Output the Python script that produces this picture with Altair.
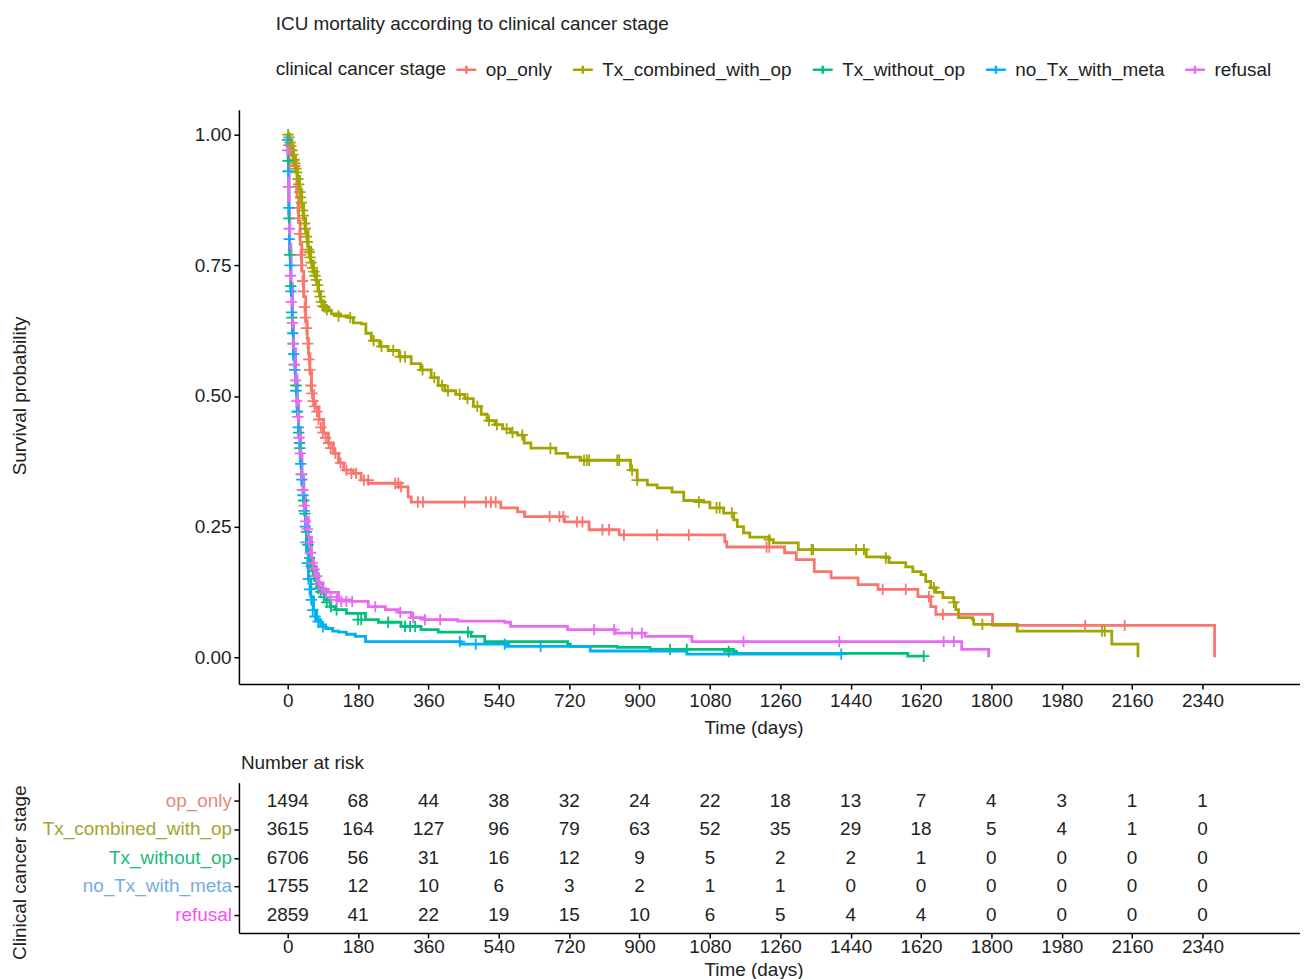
import altair as alt
import pandas as pd

FONT = "Liberation Sans"
TXT = "#222222"

groups = ["op_only", "Tx_combined_with_op", "Tx_without_op", "no_Tx_with_meta", "refusal"]
line_colors = ["#F8766D", "#A3A500", "#00BF7D", "#00B0F6", "#E76BF3"]
label_colors = ["#E8887B", "#A3A52E", "#1DB97C", "#72AEE3", "#F452F4"]

x_ticks = [0, 180, 360, 540, 720, 900, 1080, 1260, 1440, 1620, 1800, 1980, 2160, 2340]
y_ticks = [0.0, 0.25, 0.5, 0.75, 1.0]

# ---- Kaplan-Meier step curves (time in days, survival probability) ----
op_t = [0, 5, 12, 20, 24, 28, 32, 36, 41, 46, 50, 53, 57, 61, 66, 71, 80, 92, 104, 117,
        130, 143, 168, 188, 206, 283, 308, 316, 545, 588, 606, 708, 771, 848, 1118, 1123,
        1271, 1301, 1347, 1390, 1459, 1510, 1612, 1645, 1658, 1803, 2371]
op_s = [1.0, 0.98, 0.96, 0.93, 0.88, 0.834, 0.79, 0.739, 0.69, 0.644, 0.61, 0.581, 0.545,
        0.51, 0.49, 0.478, 0.455, 0.429, 0.41, 0.39, 0.372, 0.358, 0.352, 0.339, 0.333,
        0.326, 0.307, 0.297, 0.286, 0.278, 0.269, 0.259, 0.244, 0.234, 0.221, 0.211, 0.2,
        0.187, 0.164, 0.152, 0.139, 0.13, 0.116, 0.097, 0.082, 0.061, 0.0]

cw_t = [0, 5, 10, 15, 20, 25, 30, 36, 41, 46, 52, 59, 66, 74, 79, 84, 92, 104, 112, 135,
        155, 168, 188, 200, 214, 235, 257, 285, 316, 340, 367, 385, 402, 430, 453, 475, 495,
        510, 530, 550, 570, 588, 605, 622, 686, 716, 749, 877, 894, 920, 945, 983, 1013,
        1064, 1080, 1115, 1141, 1150, 1166, 1182, 1232, 1242, 1306, 1480, 1538, 1581, 1599,
        1620, 1632, 1645, 1658, 1676, 1704, 1709, 1716, 1752, 1755, 1866, 2108, 2175]
cw_s = [1.0, 0.99, 0.973, 0.955, 0.94, 0.92, 0.895, 0.867, 0.84, 0.815, 0.785, 0.758, 0.74,
        0.72, 0.70, 0.682, 0.67, 0.663, 0.657, 0.653, 0.65, 0.64, 0.638, 0.62, 0.606, 0.595,
        0.587, 0.575, 0.562, 0.55, 0.535, 0.52, 0.51, 0.503, 0.495, 0.48, 0.465, 0.453,
        0.445, 0.437, 0.43, 0.425, 0.41, 0.40, 0.39, 0.383, 0.377, 0.358, 0.339, 0.33,
        0.324, 0.316, 0.30, 0.297, 0.286, 0.276, 0.263, 0.25, 0.238, 0.23, 0.225, 0.219,
        0.206, 0.192, 0.181, 0.173, 0.164, 0.158, 0.145, 0.133, 0.124, 0.114, 0.105, 0.091,
        0.076, 0.072, 0.063, 0.05, 0.025, 0.0]

wo_t = [0, 1, 3, 5, 8, 12, 15, 20, 24, 28, 32, 36, 41, 46, 50, 55, 61, 66, 71, 80, 87, 97,
        109, 122, 150, 199, 232, 290, 341, 385, 469, 504, 716, 723, 843, 927, 1141, 1148,
        1586, 1627]
wo_s = [1.0, 0.96, 0.85, 0.78, 0.707, 0.63, 0.58, 0.53, 0.48, 0.434, 0.385, 0.339, 0.30,
        0.263, 0.225, 0.20, 0.173, 0.16, 0.149, 0.13, 0.124, 0.11, 0.097, 0.091, 0.084,
        0.072, 0.067, 0.059, 0.053, 0.048, 0.04, 0.03, 0.025, 0.021, 0.019, 0.015, 0.011,
        0.0075, 0.002, 0.002]

nt_t = [0, 1, 3, 5, 8, 12, 15, 20, 24, 28, 32, 36, 41, 46, 48, 53, 59, 66, 74, 84, 97, 115,
        130, 150, 173, 199, 443, 560, 774, 1021, 1416]
nt_s = [1.0, 0.95, 0.84, 0.77, 0.70, 0.62, 0.57, 0.52, 0.47, 0.425, 0.375, 0.33, 0.29, 0.245,
        0.2, 0.149, 0.116, 0.09, 0.072, 0.062, 0.055, 0.05, 0.048, 0.044, 0.04, 0.03, 0.025,
        0.021, 0.012, 0.006, 0.006]

rf_t = [0, 1, 3, 5, 8, 12, 15, 20, 24, 28, 32, 36, 41, 46, 53, 61, 66, 74, 79, 90, 104, 130,
        163, 206, 250, 283, 316, 351, 435, 555, 570, 716, 838, 914, 1034, 1724, 1793]
rf_s = [1.0, 0.965, 0.86, 0.79, 0.715, 0.64, 0.59, 0.54, 0.49, 0.44, 0.39, 0.345, 0.305,
        0.268, 0.23, 0.19, 0.173, 0.16, 0.143, 0.13, 0.124, 0.11, 0.107, 0.097, 0.091, 0.086,
        0.076, 0.072, 0.069, 0.067, 0.059, 0.053, 0.046, 0.04, 0.03, 0.015, 0.0]

# ---- censoring marks (time, survival) ----
cens_op = [(3, 0.98), (8, 0.97), (14, 0.95), (18, 0.94), (22, 0.90), (25, 0.86), (27, 0.84),
           (30, 0.81), (33, 0.77), (35, 0.75), (38, 0.72), (40, 0.70), (43, 0.67), (45, 0.65),
           (48, 0.63), (51, 0.60), (54, 0.57), (56, 0.55), (59, 0.52), (62, 0.505), (65, 0.49),
           (69, 0.48), (75, 0.47), (79, 0.455), (85, 0.44), (90, 0.43), (97, 0.42), (105, 0.41),
           (110, 0.40), (122, 0.39), (135, 0.372), (150, 0.358), (163, 0.352), (175, 0.352),
           (195, 0.339), (206, 0.339), (275, 0.333), (283, 0.333), (290, 0.326), (333, 0.297),
           (346, 0.297), (453, 0.297), (507, 0.297), (520, 0.297), (532, 0.297), (670, 0.269),
           (695, 0.269), (705, 0.269), (740, 0.259), (754, 0.259), (805, 0.244), (822, 0.244),
           (860, 0.234), (945, 0.234), (1026, 0.234), (1225, 0.211), (1232, 0.211),
           (1522, 0.13), (1581, 0.13), (1640, 0.116), (1676, 0.082), (2040, 0.061),
           (2141, 0.061)]
cens_cw = [(1, 1.0), (3, 0.995), (6, 0.985), (8, 0.978), (11, 0.97), (13, 0.962), (16, 0.952),
           (18, 0.945), (21, 0.935), (23, 0.928), (26, 0.915), (28, 0.905), (31, 0.89),
           (33, 0.88), (35, 0.87), (38, 0.855), (40, 0.845), (43, 0.83), (45, 0.82), (48, 0.805),
           (50, 0.795), (53, 0.78), (55, 0.775), (57, 0.765), (60, 0.755), (63, 0.745),
           (67, 0.738), (70, 0.73), (73, 0.722), (76, 0.712), (80, 0.70), (83, 0.69), (86, 0.68),
           (90, 0.672), (95, 0.67), (100, 0.665), (130, 0.653), (160, 0.65), (220, 0.606),
           (240, 0.595), (270, 0.587), (288, 0.575), (300, 0.575), (345, 0.55), (375, 0.535),
           (395, 0.52), (410, 0.51), (440, 0.503), (460, 0.495), (485, 0.48), (515, 0.453),
           (535, 0.445), (560, 0.437), (575, 0.43), (600, 0.425), (672, 0.40), (758, 0.377),
           (765, 0.377), (771, 0.377), (843, 0.377), (848, 0.377), (881, 0.358), (894, 0.339),
           (1052, 0.297), (1097, 0.286), (1105, 0.286), (1136, 0.276), (1232, 0.225),
           (1340, 0.206), (1344, 0.206), (1454, 0.206), (1474, 0.206), (1530, 0.19),
           (1653, 0.133), (1704, 0.105), (1777, 0.063), (2083, 0.05), (2090, 0.05)]
cens_wo = [(1, 0.95), (3, 0.84), (5, 0.77), (8, 0.71), (11, 0.65), (14, 0.60), (17, 0.56),
           (21, 0.52), (25, 0.47), (28, 0.43), (31, 0.40), (35, 0.35), (38, 0.32), (41, 0.30),
           (44, 0.275), (48, 0.24), (52, 0.215), (56, 0.19), (60, 0.175), (64, 0.165),
           (68, 0.155), (73, 0.14), (78, 0.132), (84, 0.125), (92, 0.115), (100, 0.105),
           (110, 0.097), (125, 0.091), (180, 0.072), (188, 0.072), (257, 0.067), (300, 0.059),
           (313, 0.059), (326, 0.059), (461, 0.048), (978, 0.015), (1021, 0.015),
           (1128, 0.011), (1627, 0.002)]
cens_nt = [(0, 0.99), (1, 0.93), (3, 0.86), (4, 0.80), (6, 0.75), (8, 0.70), (10, 0.66),
           (13, 0.62), (15, 0.58), (18, 0.55), (21, 0.51), (24, 0.47), (27, 0.44), (30, 0.41),
           (33, 0.37), (36, 0.34), (39, 0.31), (42, 0.28), (45, 0.25), (47, 0.22), (50, 0.18),
           (53, 0.15), (56, 0.13), (60, 0.11), (64, 0.09), (70, 0.078), (78, 0.068),
           (90, 0.058), (440, 0.03), (481, 0.025), (555, 0.025), (647, 0.021), (1416, 0.006)]
cens_rf = [(0, 0.97), (2, 0.90), (4, 0.82), (7, 0.73), (9, 0.68), (12, 0.64), (14, 0.60),
           (17, 0.56), (20, 0.53), (23, 0.49), (26, 0.46), (29, 0.42), (32, 0.39), (35, 0.35),
           (38, 0.32), (42, 0.29), (46, 0.26), (50, 0.245), (54, 0.22), (58, 0.2), (63, 0.18),
           (68, 0.168), (74, 0.155), (80, 0.14), (88, 0.13), (97, 0.124), (110, 0.115),
           (125, 0.11), (137, 0.107), (150, 0.107), (165, 0.107), (224, 0.097), (288, 0.086),
           (321, 0.076), (351, 0.072), (390, 0.072), (784, 0.053), (835, 0.053), (881, 0.046),
           (906, 0.046), (1166, 0.03), (1411, 0.03), (1678, 0.03), (1704, 0.03)]

# ---- number at risk ----
risk_op = [1494, 68, 44, 38, 32, 24, 22, 18, 13, 7, 4, 3, 1, 1]
risk_cw = [3615, 164, 127, 96, 79, 63, 52, 35, 29, 18, 5, 4, 1, 0]
risk_wo = [6706, 56, 31, 16, 12, 9, 5, 2, 2, 1, 0, 0, 0, 0]
risk_nt = [1755, 12, 10, 6, 3, 2, 1, 1, 0, 0, 0, 0, 0, 0]
risk_rf = [2859, 41, 22, 19, 15, 10, 6, 5, 4, 4, 0, 0, 0, 0]

curves = [(op_t, op_s), (cw_t, cw_s), (wo_t, wo_s), (nt_t, nt_s), (rf_t, rf_s)]
censors = [cens_op, cens_cw, cens_wo, cens_nt, cens_rf]
risks = [risk_op, risk_cw, risk_wo, risk_nt, risk_rf]

curve_rows, cens_rows, risk_rows, label_rows = [], [], [], []
for gi, g in enumerate(groups):
    ts, ss = curves[gi]
    for t, s in zip(ts, ss):
        curve_rows.append({"group": g, "gi": gi, "time": t, "surv": s})
    for t, s in censors[gi]:
        cens_rows.append({"group": g, "gi": gi, "time": t, "surv": s})
    for t, n in zip(x_ticks, risks[gi]):
        risk_rows.append({"group": g, "time": t, "n": n})
    label_rows.append({"group": g, "lcolor": label_colors[gi]})

curve_df = pd.DataFrame(curve_rows)
cens_df = pd.DataFrame(cens_rows)
risk_df = pd.DataFrame(risk_rows)
label_df = pd.DataFrame(label_rows)

W = 1066
xscale = alt.Scale(domain=[-124.8, 2589.5], nice=False, zero=False)
yscale = alt.Scale(domain=[-0.0514, 1.0476], nice=False, zero=False)
cscale = alt.Scale(domain=groups, range=line_colors)

x_axis = alt.Axis(values=x_ticks, format="d", title="Time (days)", titleX=517,
                  labelFlush=False, labelPadding=2, titlePadding=9)
x_axis_tab = alt.Axis(values=x_ticks, format="d", title="Time (days)", titleX=517,
                      labelFlush=False, labelPadding=0, titlePadding=4)

legend = alt.Legend(
    title="clinical cancer stage", orient="none", legendX=37, legendY=-52,
    direction="horizontal", titleOrient="left", titleFontSize=19, titleFontWeight="normal",
    titleColor=TXT, titleFont=FONT, titlePadding=8, labelFontSize=19, labelFont=FONT,
    labelColor=TXT, labelLimit=0, symbolType="M-1,0L1,0M0,-0.4L0,0.4", symbolSize=400,
    symbolStrokeWidth=2.5, symbolOpacity=1, labelOffset=8, columnPadding=15,
)

lines = alt.Chart(curve_df).mark_line(interpolate="step-after", strokeWidth=2.8).encode(
    x=alt.X("time:Q", scale=xscale, axis=x_axis),
    y=alt.Y("surv:Q", scale=yscale,
            axis=alt.Axis(values=y_ticks, format=".2f", title="Survival probability",
                          titleX=-220, titleY=287, titleAngle=270, titleBaseline="middle")),
    color=alt.Color("group:N", scale=cscale, legend=legend),
)

cens = alt.Chart(cens_df).mark_point(
    shape="M-1,0L1,0M0,-1L0,1", size=130, strokeWidth=1.8, filled=False, opacity=1
).encode(
    x=alt.X("time:Q", scale=xscale),
    y=alt.Y("surv:Q", scale=yscale),
    color=alt.Color("group:N", scale=cscale, legend=legend),
)

top = alt.layer(lines, cens).properties(
    width=W, height=577,
    title=alt.TitleParams(
        text="ICU mortality according to clinical cancer stage", anchor="start", frame="group",
        dx=37, fontSize=19, fontWeight="normal", font=FONT, color=TXT, offset=76,
    ),
)

ypoint = alt.Scale(type="point", padding=0.63)

nums = alt.Chart(risk_df).mark_text(fontSize=19, font=FONT, color=TXT).encode(
    x=alt.X("time:Q", scale=xscale, axis=x_axis_tab),
    y=alt.Y("group:N", sort=groups, scale=ypoint,
            axis=alt.Axis(labels=False, title="Clinical cancer stage", titleX=-220, titleY=90,
                          titleAngle=270, titleBaseline="middle")),
    text="n:Q",
)

labels = alt.Chart(label_df).mark_text(fontSize=19, font=FONT, align="right").encode(
    x=alt.value(-7),
    y=alt.Y("group:N", sort=groups, scale=ypoint),
    text="group:N",
    color=alt.Color("lcolor:N", scale=None),
)

table = alt.layer(nums, labels).properties(
    width=W, height=151,
    title=alt.TitleParams(text="Number at risk", anchor="start", frame="group", dx=2,
                          fontSize=19, fontWeight="normal", font=FONT, color=TXT, offset=10),
)

chart = alt.VConcatChart(vconcat=[top, table], spacing=99, bounds="flush").configure(
    font=FONT, padding={"left": 3, "top": 5, "right": 0, "bottom": 0}
).configure_view(stroke=None).configure_axis(
    domainColor="black", domainWidth=1.5, tickColor="black", tickWidth=1.5, tickSize=5,
    labelFontSize=19, labelColor=TXT, labelFont=FONT, labelPadding=3,
    titleFont=FONT, titleFontSize=19, titleFontWeight="normal", titleColor=TXT,
    titlePadding=6, grid=False,
)

chart.save("out.html", embed_options={"renderer": "svg", "actions": False})
